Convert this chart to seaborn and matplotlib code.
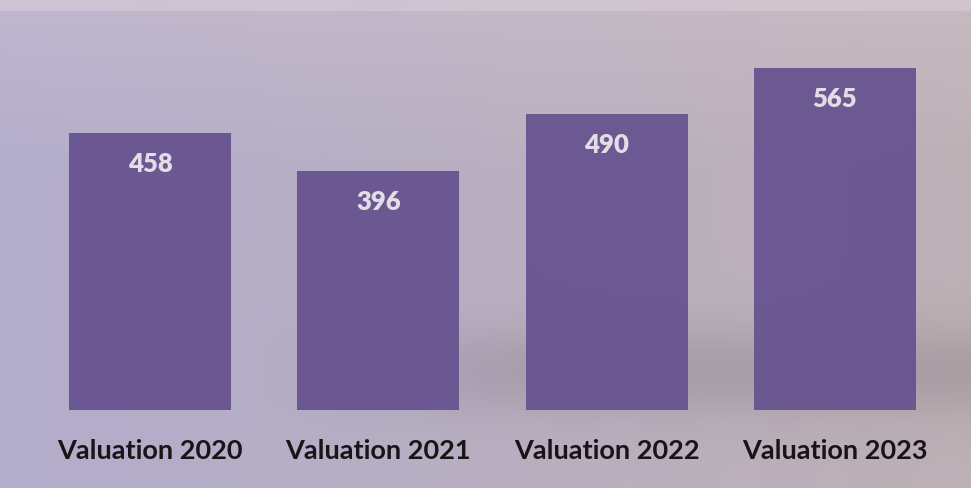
import numpy as np
import pandas as pd
import matplotlib
matplotlib.use("Agg")
import matplotlib.pyplot as plt
import seaborn as sns

# data
categories = ["Valuation 2020", "Valuation 2021", "Valuation 2022", "Valuation 2023"]
values = [458, 396, 490, 565]

sns.set_theme(style="white")
plt.rcParams["font.family"] = ["Lato", "DejaVu Sans"]

df = pd.DataFrame({"label": categories, "value": values})

fig = plt.figure(figsize=(9.71, 4.89), dpi=100)

# textured-looking background: soft gradient, lavender left, warm grey right
bg = fig.add_axes([0, 0, 1, 1])
h, w = 489, 971
yy, xx = np.mgrid[0:h, 0:w] / np.array([h, w])[:, None, None]
left = np.array([0.70, 0.68, 0.80])
right = np.array([0.74, 0.69, 0.71])
img = left[None, None, :] * (1 - xx[..., None]) + right[None, None, :] * xx[..., None]
# lighter, pinkish at the top
top_glow = np.clip(1 - yy / 0.35, 0, 1)[..., None]
img = img * (1 - 0.35 * top_glow) + np.array([0.86, 0.80, 0.84]) * 0.35 * top_glow
# soft shadow band behind the bars
shadow = np.exp(-((yy - 0.76) / 0.09) ** 2) * np.clip((xx - 0.25) / 0.3, 0, 1)
img = img * (1 - 0.10 * shadow[..., None])
# light frame edge at the top
img[:12] = img[:12] * 0.6 + np.array([0.88, 0.84, 0.87]) * 0.4
bg.imshow(np.clip(img, 0, 1), aspect="auto", extent=[0, 1, 0, 1], origin="upper")
bg.axis("off")

ax = fig.add_axes([36 / 971, 78 / 489, 913 / 971, 411 / 489])
ax.patch.set_alpha(0)
sns.barplot(data=df, x="label", y="value", color="#66528f", width=0.71,
            saturation=1, alpha=0.93, linewidth=0, ax=ax)

ax.set_ylim(0, 411 / 0.6045)
ax.set_xlim(-0.5, 3.5)
ax.set_xlabel("")
ax.set_ylabel("")
ax.set_yticks([])
for s in ax.spines.values():
    s.set_visible(False)
ax.tick_params(axis="x", length=0, pad=20)
for t in ax.get_xticklabels():
    t.set_fontsize(19.5)
    t.set_fontweight("bold")
    t.set_color("#1a1418")

for i, v in enumerate(values):
    ax.annotate(str(v), (i, v), xytext=(0, -30), textcoords="offset pixels",
                ha="center", va="center", fontsize=18.5, fontweight="heavy",
                color="#e2dee6")

fig.savefig("out.png", dpi=100)
